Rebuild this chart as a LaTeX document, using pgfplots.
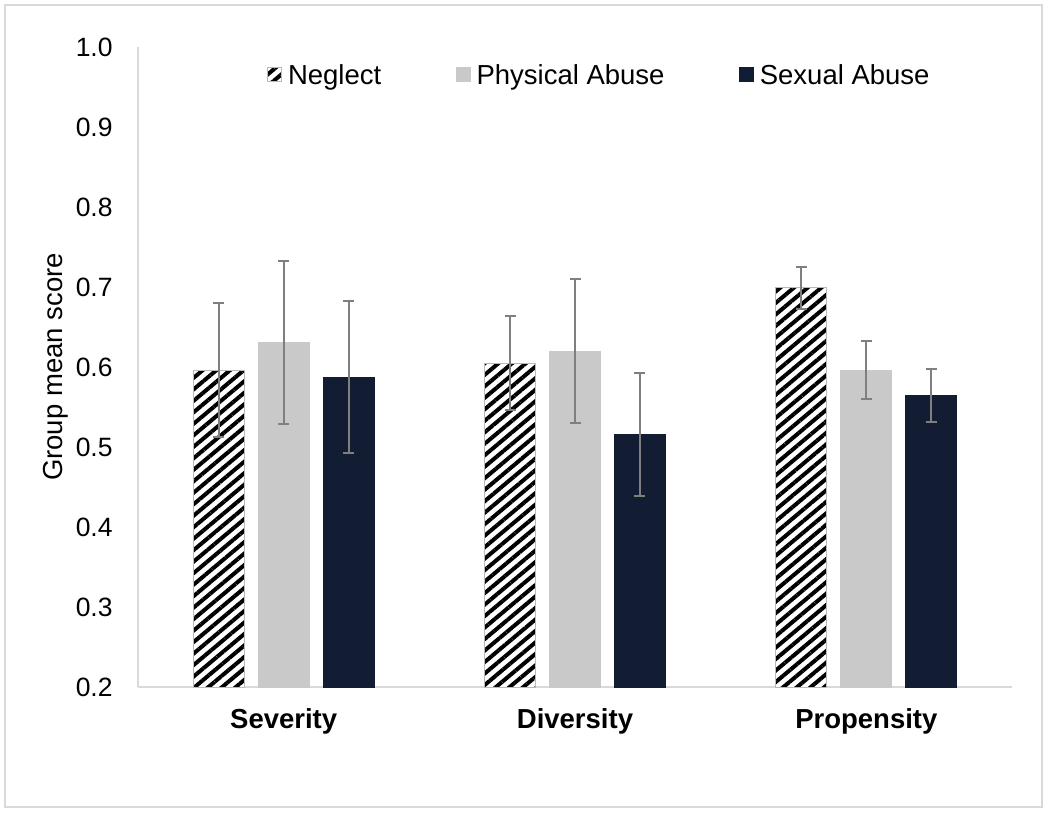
\documentclass[border=0pt]{standalone}
\usepackage{pgfplots}
\pgfplotsset{compat=1.18}
\usepackage{fontspec}
\setmainfont{Liberation Sans}
\usetikzlibrary{patterns.meta}
\definecolor{physgray}{HTML}{C9C9C9}
\definecolor{navy}{HTML}{121C33}
\definecolor{errgray}{HTML}{7F7F7F}
\definecolor{framegray}{HTML}{D9D9D9}
\begin{document}
\begin{tikzpicture}
\path[use as bounding box, fill=white] (0,0) rectangle (525pt,408pt);
\draw[framegray, line width=1pt] (2.5pt,4.5pt) rectangle (521pt,405.5pt);
\begin{axis}[
  at={(69pt,64.5pt)}, anchor=south west,
  scale only axis, width=437pt, height=320pt,
  ymin=0.2, ymax=1.0, xmin=-0.5, xmax=2.5,
  ytick={0.2,0.3,0.4,0.5,0.6,0.7,0.8,0.9,1.0},
  xtick={0,1,2}, xticklabels={Severity,Diversity,Propensity},
  axis x line=bottom, axis y line=left,
  axis line style={draw=framegray, line width=0.75pt, -},
  major tick length=0pt,
  ybar, bar width=0.175,
  /pgf/number format/assume math mode=true,
  yticklabel style={/pgf/number format/fixed, /pgf/number format/fixed zerofill, /pgf/number format/precision=1,
    font=\fontsize{13.25}{15}\selectfont, inner sep=0pt, xshift=-12.5pt, anchor=east},
  xticklabel style={font=\bfseries\fontsize{13.75}{16}\selectfont, inner sep=0pt, anchor=north, yshift=-10.5pt},
  ylabel={Group mean score},
  ylabel style={at={(axis description cs:-0.0938,0.5)}, anchor=center, font=\fontsize{13.75}{16}\selectfont},
  legend columns=3,
  legend style={at={(axis description cs:0.1476,0.954)}, anchor=west, draw=none, fill=none,
    inner sep=0pt, outer sep=0pt, font=\fontsize{13.75}{16}\selectfont, nodes={inner sep=0pt},
    /tikz/every odd column/.append style={column sep=3pt},
    /tikz/every even column/.append style={column sep=37.25pt}},
  legend image code/.code={\path[#1] (0pt,-2.6pt) rectangle (7pt,4.4pt);},
  error bars/y dir=both, error bars/y explicit,
  error bars/error bar style={line width=1pt, draw=errgray},
  error bars/error mark options={rotate=90, mark size=2.75pt, line width=1pt, draw=errgray},
]
\addplot[fill=white, draw=gray!55, line width=0.5pt,
  postaction={pattern={Lines[angle=40,distance=4.4pt,line width=2pt]}},
  bar shift=-0.223]
  coordinates {(0,0.596) +- (0,0.084) (1,0.605) +- (0,0.059) (2,0.699) +- (0,0.026)};
\addlegendentry{Neglect}
\addplot[fill=physgray, draw=physgray, bar shift=0]
  coordinates {(0,0.631) +- (0,0.102) (1,0.620) +- (0,0.090) (2,0.596) +- (0,0.036)};
\addlegendentry{Physical Abuse}
\addplot[fill=navy, draw=navy, bar shift=0.223]
  coordinates {(0,0.5875) +- (0,0.095) (1,0.516) +- (0,0.077) (2,0.564) +- (0,0.033)};
\addlegendentry{Sexual Abuse}
\end{axis}
\end{tikzpicture}
\end{document}
